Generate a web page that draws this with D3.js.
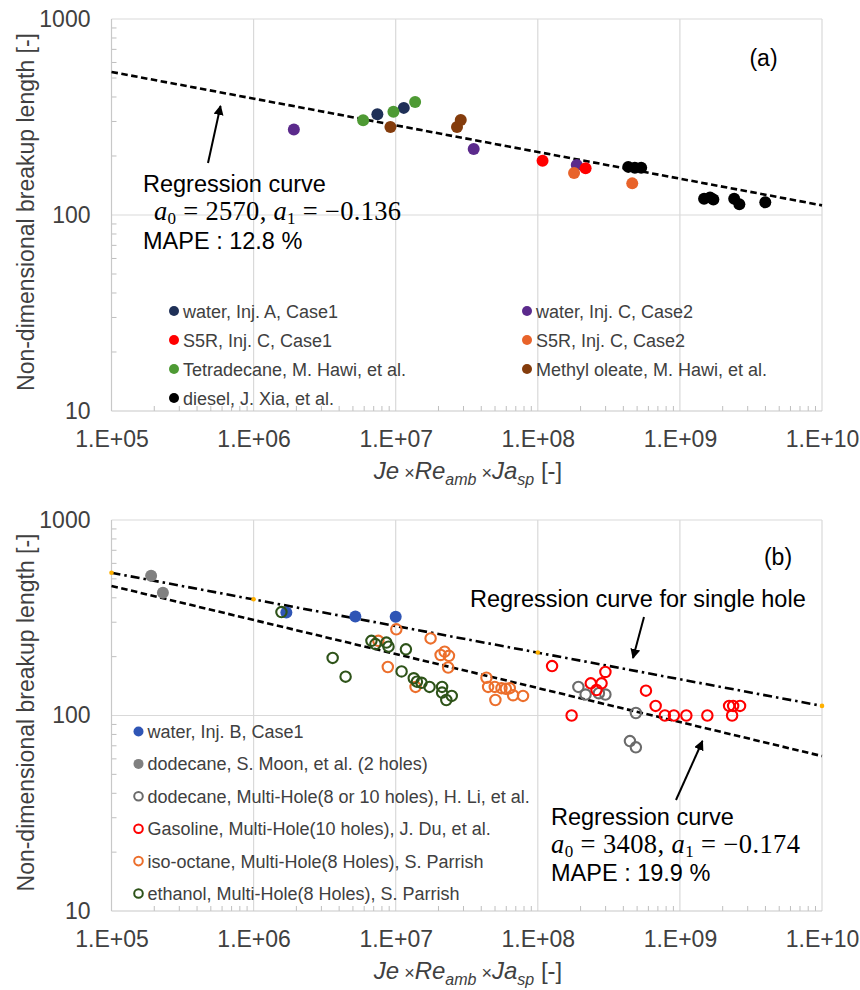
<!DOCTYPE html>
<html><head><meta charset="utf-8">
<script src="https://cdn.jsdelivr.net/npm/d3@7"></script>
<style>body{margin:0;background:#fff}svg{display:block}</style>
</head><body><svg id="c" width="860" height="990"></svg>
<script>
// ---------- axis ticks ----------
const xTickValues = [1e5, 1e6, 1e7, 1e8, 1e9, 1e10];
const xTickLabels = ["1.E+05", "1.E+06", "1.E+07", "1.E+08", "1.E+09", "1.E+10"];
const yTickValues = [10, 100, 1000];
const yTickLabels = ["10", "100", "1000"];

// ---------- panel (a) data ----------
const waterA_x = [7.43e6, 1.14e7];
const waterA_y = [327, 352];
const waterC2_x = [1.92e6, 3.54e7, 1.88e8];
const waterC2_y = [273, 217, 180];
const s5rC1_x = [1.08e8, 2.17e8];
const s5rC1_y = [189, 173];
const s5rC2_x = [1.80e8, 4.62e8];
const s5rC2_y = [164, 145];
const tetra_x = [5.9e6, 9.64e6, 1.37e7];
const tetra_y = [304, 336, 377];
const oleate_x = [9.18e6, 2.7e7, 2.87e7];
const oleate_y = [281, 281, 305];
const diesel_x = [4.33e8, 4.82e8, 5.34e8, 1.48e9, 1.63e9, 1.72e9, 2.41e9, 2.62e9, 3.99e9];
const diesel_y = [176, 174, 174, 121, 123, 120, 121, 113.5, 116];
const regA_x = [1e5, 1e10];
const regA_y = [537, 112];

// ---------- panel (b) data ----------
const waterB_x = [1.70e6, 5.2e6, 1.0e7];
const waterB_y = [336, 321, 320];
const dodecMoon_x = [1.9e5, 2.3e5];
const dodecMoon_y = [518, 425];
const dodecLi_x = [1.93e8, 2.17e8, 2.69e8, 2.99e8, 4.9e8, 4.45e8, 4.9e8];
const dodecLi_y = [140, 128, 130, 128, 103, 74, 68.7];
const gasoline_x = [1.26e8, 1.73e8, 2.36e8, 2.81e8, 2.59e8, 2.99e8, 5.77e8, 6.75e8, 7.84e8, 9.07e8, 1.11e9, 1.56e9, 2.22e9, 2.37e9, 2.65e9, 2.33e9];
const gasoline_y = [179, 100, 146, 146, 135, 167, 134, 112, 100, 100, 100, 100, 112, 112, 112, 100];
const isoOct_x = [7.55e6, 1.01e7, 8.8e6, 1.38e7, 1.76e7, 2.07e7, 2.21e7, 2.37e7, 2.34e7, 4.35e7, 4.47e7, 4.98e7, 5.55e7, 5.96e7, 6.35e7, 6.7e7, 5.03e7, 7.87e7];
const isoOct_y = [241, 276, 177, 140, 248, 204, 212, 202, 176, 156, 140, 140, 138, 137, 138, 127, 120, 126];
const ethanol_x = [1.57e6, 3.6e6, 4.44e6, 6.75e6, 7.2e6, 8.6e6, 8.9e6, 1.18e7, 1.10e7, 1.34e7, 1.41e7, 1.52e7, 1.73e7, 2.12e7, 2.12e7, 2.27e7, 2.48e7];
const ethanol_y = [338, 197, 158, 241, 232, 236, 225, 218, 168, 155, 149, 147, 140, 140, 131, 120, 126];
const regB_x = [1e5, 1e10];
const regB_y = [460, 62];
const single_x = [1e5, 1e10];
const single_y = [537, 112];
const singleDots_x = [1e5, 1e6, 1e8, 1e10];
const singleDots_y = [537, 393, 210, 112];

// ---------- legends ----------
const legendA = ["water, Inj. A, Case1", "water, Inj. C, Case2", "S5R, Inj. C, Case1", "S5R, Inj. C, Case2",
  "Tetradecane, M. Hawi, et al.", "Methyl oleate, M. Hawi, et al.", "diesel, J. Xia, et al."];
const legendB = ["water, Inj. B, Case1", "dodecane, S. Moon, et al. (2 holes)",
  "dodecane, Multi-Hole(8 or 10 holes), H. Li, et al.", "Gasoline, Multi-Hole(10 holes), J. Du, et al.",
  "iso-octane, Multi-Hole(8 Holes), S. Parrish", "ethanol, Multi-Hole(8 Holes), S. Parrish"];

// ---------- styles ----------
const seriesA = [
  {x: waterA_x, y: waterA_y, color: "#1F3057", fill: true},
  {x: waterC2_x, y: waterC2_y, color: "#5B2A8C", fill: true},
  {x: s5rC1_x, y: s5rC1_y, color: "#FF0000", fill: true},
  {x: s5rC2_x, y: s5rC2_y, color: "#E8632A", fill: true},
  {x: tetra_x, y: tetra_y, color: "#4E9A34", fill: true},
  {x: oleate_x, y: oleate_y, color: "#843C0C", fill: true},
  {x: diesel_x, y: diesel_y, color: "#000000", fill: true}
];
const seriesB = [
  {x: waterB_x, y: waterB_y, color: "#2F55B5", fill: true},
  {x: dodecMoon_x, y: dodecMoon_y, color: "#808080", fill: true},
  {x: dodecLi_x, y: dodecLi_y, color: "#6B6B6B", fill: false},
  {x: gasoline_x, y: gasoline_y, color: "#FF0000", fill: false},
  {x: isoOct_x, y: isoOct_y, color: "#EC6F2C", fill: false},
  {x: ethanol_x, y: ethanol_y, color: "#2E5319", fill: false}
];

const SANS = '"Liberation Sans",Arial,sans-serif';
const SERIF = '"Liberation Serif","Times New Roman",serif';
const TXT = "#404040";

const svg = d3.select("#c").style("font-family", SANS);
const defs = svg.append("defs");
defs.append("marker").attr("id", "arr").attr("viewBox", "0 0 10 10").attr("refX", 9).attr("refY", 5)
  .attr("markerWidth", 5).attr("markerHeight", 5).attr("orient", "auto-start-reverse")
  .append("path").attr("d", "M0,0 L10,5 L0,10 z").attr("fill", "#000");

function panel(top, bottom) {
  const g = svg.append("g");
  const x = d3.scaleLog().domain([1e5, 1e10]).range([111.5, 822]);
  const y = d3.scaleLog().domain([10, 1000]).range([bottom, top]);
  g.selectAll(".vg").data(xTickValues.slice(1)).join("line")
    .attr("x1", d => x(d)).attr("x2", d => x(d)).attr("y1", top).attr("y2", bottom)
    .attr("stroke", "#d9d9d9").attr("stroke-width", 1.2);
  g.selectAll(".hg").data(yTickValues.slice(1)).join("line")
    .attr("x1", x(1e5)).attr("x2", x(1e10)).attr("y1", d => y(d)).attr("y2", d => y(d))
    .attr("stroke", "#d9d9d9").attr("stroke-width", 1.2);
  const minorX = [], minorY = [];
  xTickValues.slice(0, -1).forEach(d => { for (let m = 2; m < 10; m++) minorX.push(d * m); });
  yTickValues.slice(0, -1).forEach(d => { for (let m = 2; m < 10; m++) minorY.push(d * m); });
  g.selectAll(".mx").data(minorX).join("line")
    .attr("x1", d => x(d)).attr("x2", d => x(d)).attr("y1", bottom).attr("y2", bottom - 5)
    .attr("stroke", "#bfbfbf").attr("stroke-width", 1);
  g.selectAll(".my").data(minorY).join("line")
    .attr("x1", x(1e5)).attr("x2", x(1e5) + 5).attr("y1", d => y(d)).attr("y2", d => y(d))
    .attr("stroke", "#bfbfbf").attr("stroke-width", 1);
  g.append("line").attr("x1", x(1e5)).attr("x2", x(1e5)).attr("y1", top).attr("y2", bottom)
    .attr("stroke", "#c8c8c8").attr("stroke-width", 1.2);
  g.append("line").attr("x1", x(1e5)).attr("x2", x(1e10)).attr("y1", bottom).attr("y2", bottom)
    .attr("stroke", "#c8c8c8").attr("stroke-width", 1.2);
  const ax = g.append("g").attr("transform", `translate(0,${bottom})`)
    .call(d3.axisBottom(x).tickValues(xTickValues).tickFormat((d, i) => xTickLabels[i]).tickSize(0).tickPadding(20));
  ax.select(".domain").remove();
  ax.selectAll("text").style("font-size", "23px").style("font-family", SANS).attr("fill", TXT);
  const ay = g.append("g").attr("transform", `translate(${x(1e5)},0)`)
    .call(d3.axisLeft(y).tickValues(yTickValues).tickFormat((d, i) => yTickLabels[i]).tickSize(0).tickPadding(21));
  ay.select(".domain").remove();
  ay.selectAll("text").style("font-size", "23px").style("font-family", SANS).attr("fill", TXT);
  g.append("text").attr("transform", `translate(34,${(top + bottom) / 2 - 3}) rotate(-90)`)
    .attr("text-anchor", "middle").attr("font-size", 23).attr("fill", TXT)
    .text("Non-dimensional breakup length [-]");
  const xt = g.append("text").attr("x", 468).attr("y", bottom + 68).attr("text-anchor", "middle")
    .attr("font-size", 24).attr("fill", TXT);
  xt.append("tspan").attr("font-style", "italic").text("Je");
  xt.append("tspan").attr("font-size", 18).text(" \u00D7");
  xt.append("tspan").attr("font-style", "italic").text("Re");
  xt.append("tspan").attr("font-style", "italic").attr("font-size", 16).attr("dy", 6).text("amb");
  xt.append("tspan").attr("font-size", 18).attr("dy", -6).text(" \u00D7");
  xt.append("tspan").attr("font-style", "italic").text("Ja");
  xt.append("tspan").attr("font-style", "italic").attr("font-size", 16).attr("dy", 6).text("sp");
  xt.append("tspan").attr("dy", -6).text(" [-]");
  return {g, x, y};
}

function drawSeries(p, list) {
  list.forEach(s => {
    const pts = s.x.map((v, i) => [v, s.y[i]]);
    p.g.append("g").selectAll("circle").data(pts).join("circle")
      .attr("cx", d => p.x(d[0])).attr("cy", d => p.y(d[1]))
      .attr("r", s.fill ? 6 : 5.2)
      .attr("fill", s.fill ? s.color : "none")
      .attr("stroke", s.fill ? "none" : s.color)
      .attr("stroke-width", s.fill ? 0 : 2.1);
  });
}

function mathLine(g, x0, y0, width, a0, a1) {
  const t = g.append("text").attr("x", x0).attr("y", y0)
    .style("font-family", SERIF).style("font-size", "26.5px").attr("fill", "#000")
    .attr("textLength", width).attr("lengthAdjust", "spacing");
  t.append("tspan").attr("font-style", "italic").text("a");
  t.append("tspan").style("font-size", "17px").attr("dy", 4).text("0");
  t.append("tspan").attr("dy", -4).text(" = " + a0 + ", ");
  t.append("tspan").attr("font-style", "italic").text("a");
  t.append("tspan").style("font-size", "17px").attr("dy", 4).text("1");
  t.append("tspan").attr("dy", -4).text(" = \u2212" + a1);
}

function legend(g, items, list, x0, y0, dy, colX, twoCol) {
  items.forEach((name, i) => {
    const col = twoCol ? (i % 2) : 0;
    const row = twoCol ? Math.floor(i / 2) : i;
    const cx = x0 + col * colX, cy = y0 + row * dy;
    const s = list[i];
    g.append("circle").attr("cx", cx).attr("cy", cy).attr("r", s.fill ? 5 : 4.3)
      .attr("fill", s.fill ? s.color : "none").attr("stroke", s.fill ? "none" : s.color)
      .attr("stroke-width", s.fill ? 0 : 2);
    g.append("text").attr("x", cx + 9).attr("y", cy + 6.5).attr("font-size", 18).attr("fill", TXT).text(name);
  });
}

// ===== Panel (a) =====
const pa = panel(19, 411);
pa.g.append("path").datum(regA_x.map((v, i) => [v, regA_y[i]]))
  .attr("d", d3.line().x(d => pa.x(d[0])).y(d => pa.y(d[1])))
  .attr("fill", "none").attr("stroke", "#000").attr("stroke-width", 2.6).attr("stroke-dasharray", "6.5,3.5");
drawSeries(pa, seriesA);
legend(pa.g, legendA, seriesA, 174, 311, 29, 353, true);
pa.g.append("text").attr("x", 763.5).attr("y", 66).attr("text-anchor", "middle").attr("font-size", 23).attr("fill", "#000").text("(a)");
pa.g.append("text").attr("x", 143).attr("y", 192).attr("font-size", 23.5).attr("fill", "#000").text("Regression curve");
mathLine(pa.g, 154, 220, 247, "2570", "0.136");
pa.g.append("text").attr("x", 143).attr("y", 249).attr("font-size", 23.5).attr("fill", "#000").text("MAPE : 12.8 %");
pa.g.append("line").attr("x1", 208).attr("y1", 163).attr("x2", 220.5).attr("y2", 106)
  .attr("stroke", "#000").attr("stroke-width", 2).attr("marker-end", "url(#arr)");

// ===== Panel (b) =====
const pb = panel(520, 911);
pb.g.append("path").datum(single_x.map((v, i) => [v, single_y[i]]))
  .attr("d", d3.line().x(d => pb.x(d[0])).y(d => pb.y(d[1])))
  .attr("fill", "none").attr("stroke", "#000").attr("stroke-width", 2.6).attr("stroke-dasharray", "9,4,2.5,4");
pb.g.append("g").selectAll("circle").data(singleDots_x.map((v, i) => [v, singleDots_y[i]])).join("circle")
  .attr("cx", d => pb.x(d[0])).attr("cy", d => pb.y(d[1])).attr("r", 2.3).attr("fill", "#FFB000");
pb.g.append("path").datum(regB_x.map((v, i) => [v, regB_y[i]]))
  .attr("d", d3.line().x(d => pb.x(d[0])).y(d => pb.y(d[1])))
  .attr("fill", "none").attr("stroke", "#000").attr("stroke-width", 2.6).attr("stroke-dasharray", "6.5,3.5");
drawSeries(pb, seriesB);
legend(pb.g, legendB, seriesB, 138.5, 731.5, 32.4, 0, false);
pb.g.append("text").attr("x", 778).attr("y", 565).attr("text-anchor", "middle").attr("font-size", 23).attr("fill", "#000").text("(b)");
pb.g.append("text").attr("x", 470).attr("y", 607).attr("font-size", 23.5).attr("fill", "#000").text("Regression curve for single hole");
pb.g.append("line").attr("x1", 644).attr("y1", 617).attr("x2", 633).attr("y2", 658)
  .attr("stroke", "#000").attr("stroke-width", 2).attr("marker-end", "url(#arr)");
pb.g.append("text").attr("x", 551).attr("y", 825).attr("font-size", 23.5).attr("fill", "#000").text("Regression curve");
mathLine(pb.g, 551, 853, 249, "3408", "0.174");
pb.g.append("text").attr("x", 551).attr("y", 881).attr("font-size", 23.5).attr("fill", "#000").text("MAPE : 19.9 %");
pb.g.append("line").attr("x1", 676).attr("y1", 800).attr("x2", 702.5).attr("y2", 741)
  .attr("stroke", "#000").attr("stroke-width", 2).attr("marker-end", "url(#arr)");
</script></body></html>
